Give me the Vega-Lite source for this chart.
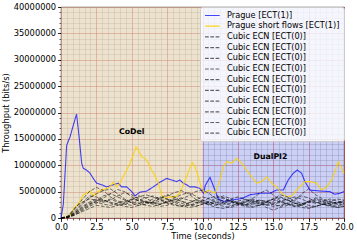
{
"$schema": "https://vega.github.io/schema/vega-lite/v6.json",
"width": 283, "height": 211,
"autosize": {"type": "none"},
"padding": {"left": 61, "top": 7, "right": 13, "bottom": 26},
"background": "white",
"config": {
  "font": "DejaVu Sans",
  "view": {"stroke": "black", "strokeWidth": 0.8},
  "axis": {"labelFont": "DejaVu Sans", "titleFont": "DejaVu Sans", "labelFontSize": 8.3, "titleFontSize": 8.3, "titleFontWeight": "normal", "labelColor": "black", "titleColor": "black", "tickColor": "black", "domainColor": "black", "tickWidth": 0.8, "labelOverlap": false, "labelFlush": false},
  "legend": {"orient": "top-right", "offset": 0, "labelFont": "DejaVu Sans", "labelFontSize": 8.2, "labelColor": "black", "symbolType": "M-1,0H3.2", "symbolSize": 49, "symbolStrokeWidth": 1.2, "symbolFillColor": "transparent", "fillColor": "rgba(255,255,255,0.8)", "strokeColor": "#cccccc", "cornerRadius": 2, "padding": 4, "rowPadding": 1.7, "labelOffset": 14, "labelLimit": 0}
},
"datasets": {
  "regions": [
    {"name": "CoDel", "start": 0, "end": 10, "lx": 5, "ly": 16.3e6},
    {"name": "DualPI2", "start": 10, "end": 20, "lx": 14.8, "ly": 11.5e6}
  ],
  "prague": [
    {"s":"P","t":0,"v":0},{"s":"P","t":0.16,"v":2.5e6},{"s":"P","t":0.4,"v":13.8e6},{"s":"P","t":0.64,"v":15.4e6},{"s":"P","t":0.87,"v":17.6e6},{"s":"P","t":1.1,"v":19.7e6},{"s":"P","t":1.29,"v":15.1e6},{"s":"P","t":1.46,"v":10.4e6},{"s":"P","t":1.58,"v":9.4e6},{"s":"P","t":1.8,"v":9.1e6},{"s":"P","t":2.05,"v":8.5e6},{"s":"P","t":2.28,"v":7.5e6},{"s":"P","t":2.52,"v":6.6e6},{"s":"P","t":2.87,"v":6.3e6},{"s":"P","t":3.23,"v":5.9e6},{"s":"P","t":3.7,"v":6.3e6},{"s":"P","t":4.05,"v":6.6e6},{"s":"P","t":4.29,"v":5.9e6},{"s":"P","t":4.64,"v":5.9e6},{"s":"P","t":5.0,"v":5.0e6},{"s":"P","t":5.23,"v":4.2e6},{"s":"P","t":5.58,"v":4.9e6},{"s":"P","t":6.06,"v":5.1e6},{"s":"P","t":6.52,"v":5.9e6},{"s":"P","t":7.0,"v":6.8e6},{"s":"P","t":7.47,"v":7.5e6},{"s":"P","t":7.82,"v":7.2e6},{"s":"P","t":8.18,"v":6.9e6},{"s":"P","t":8.4,"v":7.2e6},{"s":"P","t":8.64,"v":6.6e6},{"s":"P","t":8.88,"v":6.3e6},{"s":"P","t":9.1,"v":5.9e6},{"s":"P","t":9.47,"v":5.9e6},{"s":"P","t":9.82,"v":5.6e6},{"s":"P","t":10.06,"v":4.7e6},{"s":"P","t":10.2,"v":6.2e6},{"s":"P","t":10.53,"v":7.7e6},{"s":"P","t":10.88,"v":5.3e6},{"s":"P","t":11.1,"v":3.7e6},{"s":"P","t":11.47,"v":3.1e6},{"s":"P","t":12.06,"v":3.4e6},{"s":"P","t":12.77,"v":3.7e6},{"s":"P","t":13.36,"v":4.4e6},{"s":"P","t":14.06,"v":4.7e6},{"s":"P","t":14.77,"v":4.7e6},{"s":"P","t":15.24,"v":5.3e6},{"s":"P","t":15.71,"v":5.3e6},{"s":"P","t":16.06,"v":7.2e6},{"s":"P","t":16.42,"v":8.5e6},{"s":"P","t":16.7,"v":9.1e6},{"s":"P","t":17.0,"v":8.5e6},{"s":"P","t":17.24,"v":6.9e6},{"s":"P","t":17.6,"v":5.3e6},{"s":"P","t":17.95,"v":5.2e6},{"s":"P","t":18.42,"v":5.1e6},{"s":"P","t":19.0,"v":5.0e6},{"s":"P","t":19.36,"v":4.5e6},{"s":"P","t":19.72,"v":4.7e6},{"s":"P","t":20,"v":5.0e6},
    {"s":"S","t":0.3,"v":0},{"s":"S","t":0.64,"v":0.6e6},{"s":"S","t":1.0,"v":2.1e6},{"s":"S","t":1.34,"v":3.1e6},{"s":"S","t":1.58,"v":4.4e6},{"s":"S","t":1.8,"v":4.7e6},{"s":"S","t":2.05,"v":5.1e6},{"s":"S","t":2.28,"v":4.2e6},{"s":"S","t":2.52,"v":4.9e6},{"s":"S","t":2.87,"v":5.3e6},{"s":"S","t":3.23,"v":5.6e6},{"s":"S","t":3.46,"v":5.9e6},{"s":"S","t":3.7,"v":6.8e6},{"s":"S","t":3.93,"v":5.9e6},{"s":"S","t":4.17,"v":6.6e6},{"s":"S","t":4.4,"v":7.8e6},{"s":"S","t":4.64,"v":9.1e6},{"s":"S","t":4.88,"v":10.4e6},{"s":"S","t":5.1,"v":11.9e6},{"s":"S","t":5.3,"v":13.5e6},{"s":"S","t":5.46,"v":12.9e6},{"s":"S","t":5.7,"v":11.6e6},{"s":"S","t":5.94,"v":11.3e6},{"s":"S","t":6.17,"v":10.4e6},{"s":"S","t":6.4,"v":9.1e6},{"s":"S","t":6.64,"v":8.0e6},{"s":"S","t":6.88,"v":6.6e6},{"s":"S","t":7.1,"v":4.4e6},{"s":"S","t":7.35,"v":3.7e6},{"s":"S","t":7.7,"v":4.0e6},{"s":"S","t":8.06,"v":4.0e6},{"s":"S","t":8.4,"v":4.7e6},{"s":"S","t":8.64,"v":6.3e6},{"s":"S","t":8.88,"v":7.8e6},{"s":"S","t":9.1,"v":9.4e6},{"s":"S","t":9.28,"v":10.5e6},{"s":"S","t":9.47,"v":9.7e6},{"s":"S","t":9.7,"v":7.8e6},{"s":"S","t":9.94,"v":5.6e6},{"s":"S","t":10.18,"v":4.7e6},{"s":"S","t":10.4,"v":5.3e6},{"s":"S","t":10.88,"v":4.7e6},{"s":"S","t":11.24,"v":7.2e6},{"s":"S","t":11.47,"v":9.7e6},{"s":"S","t":11.71,"v":10.7e6},{"s":"S","t":12.06,"v":10.4e6},{"s":"S","t":12.42,"v":11.3e6},{"s":"S","t":12.77,"v":10.4e6},{"s":"S","t":13.12,"v":9.1e6},{"s":"S","t":13.48,"v":7.8e6},{"s":"S","t":13.83,"v":6.6e6},{"s":"S","t":14.18,"v":6.9e6},{"s":"S","t":14.54,"v":7.8e6},{"s":"S","t":14.89,"v":6.6e6},{"s":"S","t":15.24,"v":5.9e6},{"s":"S","t":15.6,"v":4.7e6},{"s":"S","t":15.95,"v":4.0e6},{"s":"S","t":16.3,"v":4.2e6},{"s":"S","t":16.77,"v":5.6e6},{"s":"S","t":17.24,"v":6.9e6},{"s":"S","t":17.6,"v":6.9e6},{"s":"S","t":18.07,"v":6.6e6},{"s":"S","t":18.42,"v":5.3e6},{"s":"S","t":18.78,"v":5.9e6},{"s":"S","t":19.13,"v":7.2e6},{"s":"S","t":19.36,"v":8.8e6},{"s":"S","t":19.6,"v":10.7e6},{"s":"S","t":19.83,"v":9.4e6},{"s":"S","t":20,"v":8.5e6}
  ],
  "cubic": [
    {"t":0,"c01":0,"c02":0,"c03":0,"c04":0,"c05":0,"c06":0,"c07":0,"c08":0,"c09":0,"c10":0},
    {"t":0.5,"c01":0.3e6,"c02":0.2e6,"c03":0.1e6,"c04":0.4e6,"c05":0.2e6,"c06":0.1e6,"c07":0.3e6,"c08":0.1e6,"c09":0.2e6,"c10":0.1e6},
    {"t":1,"c01":1.8e6,"c02":1.2e6,"c03":0.8e6,"c04":2.0e6,"c05":1.0e6,"c06":0.6e6,"c07":1.4e6,"c08":0.6e6,"c09":1.0e6,"c10":0.8e6},
    {"t":1.5,"c01":3.5e6,"c02":2.6e6,"c03":1.6e6,"c04":3.0e6,"c05":2.0e6,"c06":1.4e6,"c07":2.8e6,"c08":1.2e6,"c09":2.2e6,"c10":1.8e6},
    {"t":2,"c01":5.0e6,"c02":3.8e6,"c03":2.4e6,"c04":3.6e6,"c05":2.8e6,"c06":2.2e6,"c07":4.2e6,"c08":1.8e6,"c09":3.0e6,"c10":2.6e6},
    {"t":2.5,"c01":5.8e6,"c02":4.6e6,"c03":3.2e6,"c04":3.4e6,"c05":3.0e6,"c06":2.8e6,"c07":4.0e6,"c08":2.4e6,"c09":3.6e6,"c10":3.4e6},
    {"t":3,"c01":5.2e6,"c02":5.2e6,"c03":3.8e6,"c04":3.0e6,"c05":2.6e6,"c06":3.4e6,"c07":3.4e6,"c08":2.2e6,"c09":3.2e6,"c10":4.2e6},
    {"t":3.5,"c01":4.0e6,"c02":5.5e6,"c03":4.6e6,"c04":3.4e6,"c05":2.4e6,"c06":3.0e6,"c07":2.8e6,"c08":2.0e6,"c09":3.6e6,"c10":4.6e6},
    {"t":4,"c01":3.2e6,"c02":4.6e6,"c03":5.4e6,"c04":4.2e6,"c05":2.8e6,"c06":2.6e6,"c07":2.4e6,"c08":2.4e6,"c09":3.0e6,"c10":4.0e6},
    {"t":4.5,"c01":3.0e6,"c02":3.6e6,"c03":5.0e6,"c04":4.8e6,"c05":3.2e6,"c06":2.2e6,"c07":2.6e6,"c08":2.8e6,"c09":2.6e6,"c10":3.4e6},
    {"t":5,"c01":3.5e6,"c02":2.8e6,"c03":4.0e6,"c04":4.4e6,"c05":3.6e6,"c06":2.0e6,"c07":3.0e6,"c08":3.4e6,"c09":2.4e6,"c10":3.0e6},
    {"t":5.5,"c01":4.2e6,"c02":2.4e6,"c03":3.2e6,"c04":3.6e6,"c05":3.4e6,"c06":2.4e6,"c07":3.4e6,"c08":4.0e6,"c09":2.8e6,"c10":2.8e6},
    {"t":6,"c01":3.8e6,"c02":2.6e6,"c03":2.8e6,"c04":3.0e6,"c05":3.0e6,"c06":3.0e6,"c07":3.8e6,"c08":4.4e6,"c09":3.2e6,"c10":2.4e6},
    {"t":6.5,"c01":3.0e6,"c02":3.2e6,"c03":3.0e6,"c04":2.6e6,"c05":2.8e6,"c06":3.6e6,"c07":4.2e6,"c08":4.0e6,"c09":2.8e6,"c10":2.2e6},
    {"t":7,"c01":2.6e6,"c02":3.8e6,"c03":3.6e6,"c04":2.2e6,"c05":3.2e6,"c06":4.0e6,"c07":3.6e6,"c08":3.4e6,"c09":2.6e6,"c10":2.6e6},
    {"t":7.5,"c01":3.0e6,"c02":4.4e6,"c03":4.2e6,"c04":2.4e6,"c05":3.6e6,"c06":3.6e6,"c07":3.0e6,"c08":2.8e6,"c09":3.0e6,"c10":3.2e6},
    {"t":8,"c01":3.6e6,"c02":4.0e6,"c03":4.8e6,"c04":3.0e6,"c05":3.2e6,"c06":3.0e6,"c07":2.6e6,"c08":2.4e6,"c09":3.4e6,"c10":3.8e6},
    {"t":8.5,"c01":3.2e6,"c02":3.2e6,"c03":5.2e6,"c04":3.6e6,"c05":2.8e6,"c06":2.4e6,"c07":2.2e6,"c08":2.2e6,"c09":3.8e6,"c10":4.4e6},
    {"t":9,"c01":2.8e6,"c02":2.6e6,"c03":4.6e6,"c04":4.2e6,"c05":2.4e6,"c06":2.0e6,"c07":2.4e6,"c08":2.8e6,"c09":3.4e6,"c10":4.8e6},
    {"t":9.5,"c01":3.4e6,"c02":2.2e6,"c03":3.6e6,"c04":5.0e6,"c05":2.6e6,"c06":2.2e6,"c07":2.8e6,"c08":3.4e6,"c09":3.0e6,"c10":4.2e6},
    {"t":10,"c01":4.0e6,"c02":2.6e6,"c03":3.0e6,"c04":5.3e6,"c05":3.2e6,"c06":2.6e6,"c07":3.4e6,"c08":3.0e6,"c09":2.8e6,"c10":3.4e6},
    {"t":10.5,"c01":3.6e6,"c02":3.2e6,"c03":2.6e6,"c04":4.6e6,"c05":3.8e6,"c06":3.0e6,"c07":3.0e6,"c08":2.4e6,"c09":2.6e6,"c10":2.8e6},
    {"t":11,"c01":3.0e6,"c02":3.8e6,"c03":2.4e6,"c04":3.6e6,"c05":4.2e6,"c06":2.6e6,"c07":2.6e6,"c08":2.0e6,"c09":3.0e6,"c10":3.4e6},
    {"t":11.5,"c01":2.6e6,"c02":4.2e6,"c03":2.8e6,"c04":2.8e6,"c05":3.8e6,"c06":2.2e6,"c07":3.0e6,"c08":1.8e6,"c09":3.4e6,"c10":3.8e6},
    {"t":12,"c01":2.8e6,"c02":3.6e6,"c03":3.2e6,"c04":2.4e6,"c05":3.2e6,"c06":2.0e6,"c07":3.6e6,"c08":2.2e6,"c09":3.0e6,"c10":3.2e6},
    {"t":12.5,"c01":3.2e6,"c02":2.8e6,"c03":3.0e6,"c04":2.6e6,"c05":2.8e6,"c06":2.4e6,"c07":4.0e6,"c08":2.8e6,"c09":2.6e6,"c10":2.6e6},
    {"t":13,"c01":3.5e6,"c02":2.4e6,"c03":2.6e6,"c04":3.0e6,"c05":2.6e6,"c06":3.0e6,"c07":3.6e6,"c08":3.2e6,"c09":2.4e6,"c10":2.2e6},
    {"t":13.5,"c01":3.0e6,"c02":2.8e6,"c03":2.2e6,"c04":3.6e6,"c05":3.0e6,"c06":3.4e6,"c07":3.2e6,"c08":3.6e6,"c09":2.6e6,"c10":2.0e6},
    {"t":14,"c01":2.4e6,"c02":3.4e6,"c03":2.4e6,"c04":4.6e6,"c05":3.4e6,"c06":3.0e6,"c07":2.8e6,"c08":3.2e6,"c09":2.8e6,"c10":2.4e6},
    {"t":14.5,"c01":2.6e6,"c02":3.0e6,"c03":3.0e6,"c04":5.3e6,"c05":3.2e6,"c06":2.0e6,"c07":2.4e6,"c08":2.6e6,"c09":3.2e6,"c10":3.0e6},
    {"t":15,"c01":3.2e6,"c02":2.6e6,"c03":3.6e6,"c04":4.4e6,"c05":2.8e6,"c06":1.5e6,"c07":2.6e6,"c08":2.2e6,"c09":3.6e6,"c10":3.6e6},
    {"t":15.5,"c01":3.8e6,"c02":2.2e6,"c03":4.0e6,"c04":3.2e6,"c05":3.2e6,"c06":2.0e6,"c07":3.0e6,"c08":2.4e6,"c09":3.0e6,"c10":4.4e6},
    {"t":16,"c01":3.4e6,"c02":2.8e6,"c03":3.4e6,"c04":2.6e6,"c05":3.6e6,"c06":2.4e6,"c07":3.4e6,"c08":2.8e6,"c09":2.6e6,"c10":4.0e6},
    {"t":16.5,"c01":2.8e6,"c02":3.6e6,"c03":2.8e6,"c04":2.2e6,"c05":4.0e6,"c06":2.8e6,"c07":3.2e6,"c08":2.4e6,"c09":2.2e6,"c10":3.2e6},
    {"t":17,"c01":2.5e6,"c02":4.2e6,"c03":2.6e6,"c04":2.4e6,"c05":3.6e6,"c06":2.4e6,"c07":2.8e6,"c08":2.0e6,"c09":2.6e6,"c10":4.6e6},
    {"t":17.5,"c01":3.0e6,"c02":3.8e6,"c03":3.2e6,"c04":3.0e6,"c05":3.0e6,"c06":2.0e6,"c07":2.4e6,"c08":1.8e6,"c09":3.2e6,"c10":5.5e6},
    {"t":18,"c01":3.6e6,"c02":3.0e6,"c03":3.8e6,"c04":3.4e6,"c05":2.8e6,"c06":2.2e6,"c07":2.2e6,"c08":2.2e6,"c09":3.0e6,"c10":4.4e6},
    {"t":18.5,"c01":3.2e6,"c02":2.6e6,"c03":3.4e6,"c04":3.0e6,"c05":3.2e6,"c06":2.6e6,"c07":2.6e6,"c08":2.6e6,"c09":2.6e6,"c10":3.6e6},
    {"t":19,"c01":2.7e6,"c02":2.4e6,"c03":3.0e6,"c04":2.6e6,"c05":3.6e6,"c06":2.2e6,"c07":3.2e6,"c08":2.4e6,"c09":2.8e6,"c10":3.2e6},
    {"t":19.5,"c01":2.9e6,"c02":2.8e6,"c03":2.6e6,"c04":2.2e6,"c05":3.2e6,"c06":2.0e6,"c07":3.6e6,"c08":2.0e6,"c09":3.0e6,"c10":2.8e6},
    {"t":20,"c01":3.3e6,"c02":3.0e6,"c03":2.4e6,"c04":2.8e6,"c05":3.0e6,"c06":2.2e6,"c07":3.4e6,"c08":2.2e6,"c09":2.6e6,"c10":3.2e6}
  ]
},
"layer": [
  {
    "data": {"name": "regions"},
    "mark": {"type": "rect"},
    "encoding": {
      "x": {"field": "start", "type": "quantitative", "scale": {"domain": [0, 20], "nice": false, "zero": false},
        "axis": {"orient": "bottom", "values": [0,0.4167,0.8333,1.25,1.6667,2.0833,2.5,2.9167,3.3333,3.75,4.1667,4.5833,5,5.4167,5.8333,6.25,6.6667,7.0833,7.5,7.9167,8.3333,8.75,9.1667,9.5833,10,10.4167,10.8333,11.25,11.6667,12.0833,12.5,12.9167,13.3333,13.75,14.1667,14.5833,15,15.4167,15.8333,16.25,16.6667,17.0833,17.5,17.9167,18.3333,18.75,19.1667,19.5833,20],
          "grid": true, "gridColor": "#808080", "gridOpacity": 0.6, "gridWidth": 0.5, "labels": false, "ticks": true, "tickSize": 2, "tickWidth": 0.6, "domain": false, "title": null}},
      "x2": {"field": "end"},
      "fill": {"field": "name", "type": "nominal", "scale": {"domain": ["CoDel", "DualPI2"], "range": ["#dccaa5", "#6a78e0"]}, "legend": null},
      "fillOpacity": {"field": "name", "type": "nominal", "scale": {"domain": ["CoDel", "DualPI2"], "range": [0.55, 0.35]}, "legend": null}
    }
  },
  {
    "data": {"name": "prague"},
    "mark": {"type": "line", "strokeWidth": 1.1},
    "encoding": {
      "x": {"field": "t", "type": "quantitative", "axis": {"orient": "bottom", "values": [0,2.5,5,7.5,10,12.5,15,17.5,20], "format": ".1f", "grid": true, "gridColor": "#ff3030", "gridOpacity": 0.5, "gridWidth": 0.8, "tickSize": 3.5, "labelPadding": 0.5, "domain": false, "title": "Time (seconds)", "titlePadding": 1}},
      "y": {"field": "v", "type": "quantitative", "scale": {"domain": [0, 40000000], "nice": false},
        "axis": {"orient": "left", "values": [0,5000000,10000000,15000000,20000000,25000000,30000000,35000000,40000000], "format": "d", "grid": true, "gridColor": "#ff3030", "gridOpacity": 0.5, "gridWidth": 0.8, "tickSize": 3.5, "labelPadding": 2, "domain": false, "title": "Throughput (bits/s)", "titlePadding": 3}},
      "color": {"field": "s", "type": "nominal", "scale": {"domain": ["P","S","c01","c02","c03","c04","c05","c06","c07","c08","c09","c10"], "range": ["rgba(0,0,255,0.72)","rgba(255,208,0,0.9)","rgba(0,0,0,0.6)","rgba(0,0,0,0.6)","rgba(0,0,0,0.6)","rgba(0,0,0,0.6)","rgba(0,0,0,0.6)","rgba(0,0,0,0.6)","rgba(0,0,0,0.6)","rgba(0,0,0,0.6)","rgba(0,0,0,0.6)","rgba(0,0,0,0.6)"]},
        "legend": {"title": null, "labelExpr": "datum.value == 'P' ? 'Prague [ECT(1)]' : datum.value == 'S' ? 'Prague short flows [ECT(1)]' : 'Cubic ECN [ECT(0)]'"}},
      "strokeDash": {"field": "s", "type": "nominal", "scale": {"domain": ["P","S","c01","c02","c03","c04","c05","c06","c07","c08","c09","c10"], "range": [[1,0],[1,0],[3.7,1.6],[3.7,1.6],[3.7,1.6],[3.7,1.6],[3.7,1.6],[3.7,1.6],[3.7,1.6],[3.7,1.6],[3.7,1.6],[3.7,1.6]]},
        "legend": {"title": null, "labelExpr": "datum.value == 'P' ? 'Prague [ECT(1)]' : datum.value == 'S' ? 'Prague short flows [ECT(1)]' : 'Cubic ECN [ECT(0)]'"}}
    }
  },
  {
    "data": {"name": "cubic"},
    "transform": [{"fold": ["c01","c02","c03","c04","c05","c06","c07","c08","c09","c10"], "as": ["s", "v"]}],
    "mark": {"type": "line", "strokeWidth": 0.9},
    "encoding": {
      "x": {"field": "t", "type": "quantitative", "axis": null},
      "y": {"field": "v", "type": "quantitative", "axis": null},
      "color": {"field": "s", "type": "nominal", "legend": {"title": null, "labelExpr": "datum.value == 'P' ? 'Prague [ECT(1)]' : datum.value == 'S' ? 'Prague short flows [ECT(1)]' : 'Cubic ECN [ECT(0)]'"}},
      "strokeDash": {"field": "s", "type": "nominal", "legend": {"title": null, "labelExpr": "datum.value == 'P' ? 'Prague [ECT(1)]' : datum.value == 'S' ? 'Prague short flows [ECT(1)]' : 'Cubic ECN [ECT(0)]'"}}
    }
  },
  {
    "data": {"name": "regions"},
    "mark": {"type": "text", "fontWeight": "bold", "fontSize": 7.8, "color": "black", "align": "center", "baseline": "middle"},
    "encoding": {
      "x": {"field": "lx", "type": "quantitative", "axis": null},
      "y": {"field": "ly", "type": "quantitative",
        "axis": {"orient": "left", "values": [0,1e6,2e6,3e6,4e6,5e6,6e6,7e6,8e6,9e6,10e6,11e6,12e6,13e6,14e6,15e6,16e6,17e6,18e6,19e6,20e6,21e6,22e6,23e6,24e6,25e6,26e6,27e6,28e6,29e6,30e6,31e6,32e6,33e6,34e6,35e6,36e6,37e6,38e6,39e6,40e6],
          "grid": true, "gridColor": "#808080", "gridOpacity": 0.6, "gridWidth": 0.5, "labels": false, "ticks": true, "tickSize": 2, "tickWidth": 0.6, "domain": false, "title": null}},
      "text": {"field": "name"}
    }
  }
],
"resolve": {"axis": {"x": "independent", "y": "independent"}}
}
